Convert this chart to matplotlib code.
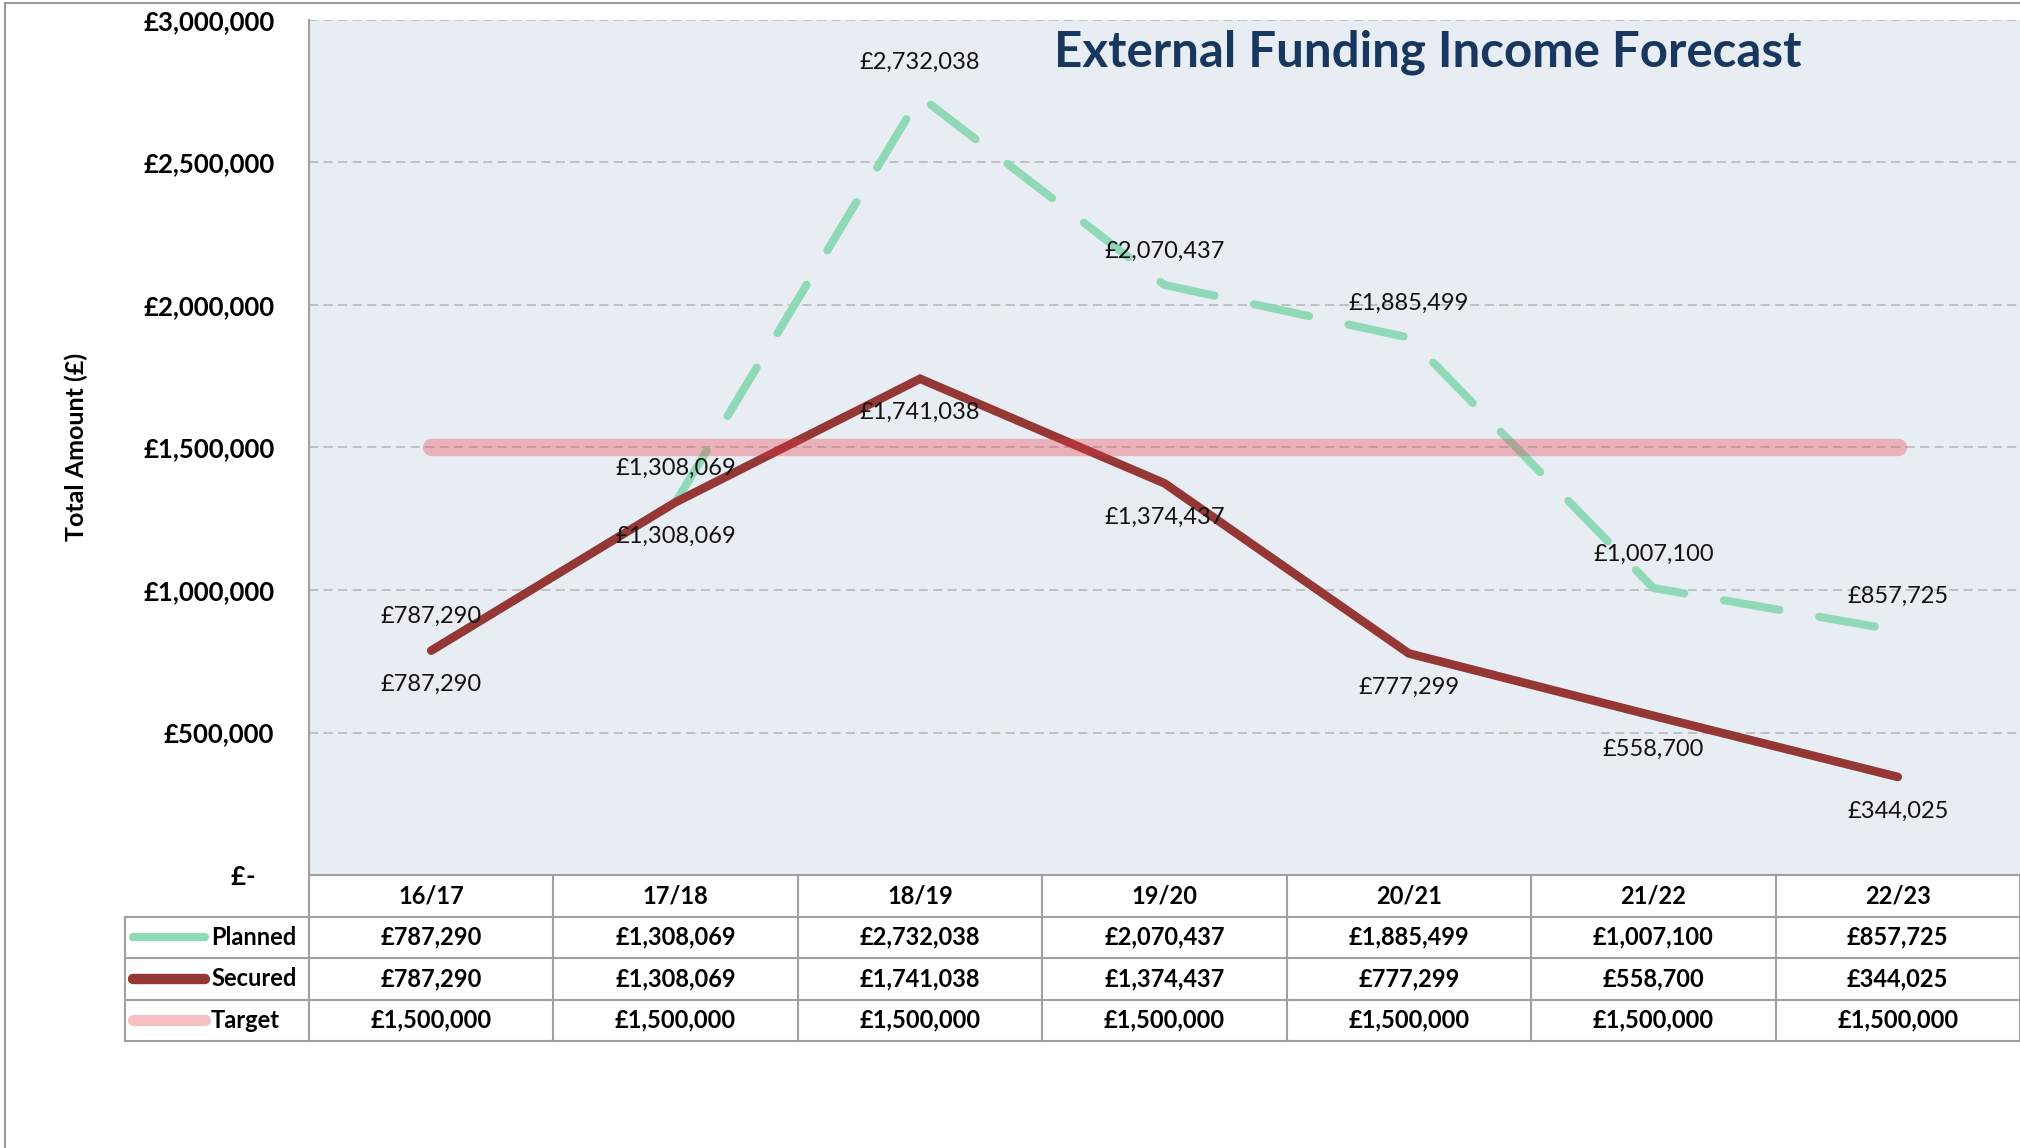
import matplotlib.pyplot as plt
import matplotlib.ticker as mticker
from matplotlib.lines import Line2D

plt.rcParams["font.family"] = ["Lato", "DejaVu Sans"]

# ── data ─────────────────────────────────────────────────────────────────────
YEARS = ["16/17", "17/18", "18/19", "19/20", "20/21", "21/22", "22/23"]
PLANNED = [787290, 1308069, 2732038, 2070437, 1885499, 1007100, 857725]
SECURED = [787290, 1308069, 1741038, 1374437, 777299, 558700, 344025]
TARGET = [1500000, 1500000, 1500000, 1500000, 1500000, 1500000, 1500000]
SERIES_NAMES = ["Planned", "Secured", "Target"]
Y_TICKS = [0, 500000, 1000000, 1500000, 2000000, 2500000, 3000000]

TITLE = "External Funding Income Forecast"
Y_LABEL = "Total Amount (£)"

# ── colours ──────────────────────────────────────────────────────────────────
C_PLANNED = "#8FD9B6"
C_SECURED = "#953735"
C_TARGET = "#EC3844"
BG = "#E8ECF3"
GRID = "#B5B5B5"
BORDER = "#A0A0A0"
TITLE_C = "#17375E"

W, H = 2020, 1148


def fx(px):
    return px / W


def fy(py):
    return 1 - py / H


def money(v):
    return f"£{v:,.0f}"


fig = plt.figure(figsize=(W / 100, H / 100), dpi=100)

# outer frame (only left and top edges show)
fig.add_artist(Line2D([fx(5), fx(5)], [0, fy(3)], color="#999999", lw=1.5))
fig.add_artist(Line2D([fx(5), 1], [fy(3), fy(3)], color="#999999", lw=1.5))

# ── main plot ────────────────────────────────────────────────────────────────
ax = fig.add_axes([fx(309), fy(875), 1 - fx(309), (875 - 20) / H])
ax.set_facecolor(BG)
x = list(range(len(YEARS)))

ax.plot(x, PLANNED, color=C_PLANNED, lw=5.8, dashes=(7, 5),
        dash_capstyle="round", zorder=3)
ax.plot(x, SECURED, color=C_SECURED, lw=6.2, solid_joinstyle="miter",
        solid_capstyle="round", zorder=4)
ax.plot(x, TARGET, color=C_TARGET, alpha=0.32, lw=12.5,
        solid_capstyle="round", zorder=5)

for i, v in enumerate(PLANNED):
    ax.annotate(money(v), (i, v), xytext=(0, 24.5), textcoords="offset points",
                ha="center", va="center", fontsize=17, color="#111111", zorder=6)
for i, v in enumerate(SECURED):
    ax.annotate(money(v), (i, v), xytext=(0, -24.5), textcoords="offset points",
                ha="center", va="center", fontsize=17, color="#111111", zorder=6)

ax.set_xlim(-0.5, len(YEARS) - 0.5)
ax.set_ylim(Y_TICKS[0], Y_TICKS[-1])
ax.set_xticks([])
ax.set_yticks(Y_TICKS)
ax.yaxis.set_major_formatter(mticker.FuncFormatter(
    lambda v, p: "£-   " if v == 0 else money(v)))
ax.tick_params(axis="y", length=0, pad=25, labelsize=18.5)
plt.setp(ax.get_yticklabels(), fontweight="bold")
ax.yaxis.grid(True, ls=(0, (6, 3.5)), color=GRID, lw=1.1)
ax.set_axisbelow(True)
for s in ["top", "right", "bottom"]:
    ax.spines[s].set_visible(False)
ax.spines["left"].set_color(BORDER)
ax.spines["left"].set_linewidth(1.5)

fig.text(fx(1054), fy(52), TITLE, ha="left", va="center", fontsize=35.5,
         fontweight="bold", color=TITLE_C)
fig.text(fx(76), fy(447), Y_LABEL, rotation=90, ha="center", va="center",
         fontsize=18, fontweight="bold")

# ── data table under the plot ────────────────────────────────────────────────
col_w = (W - 309) / len(YEARS)
label_w = (309 - 125) / col_w
left = -0.5 - label_w
tax = fig.add_axes([fx(125), fy(1041), 1 - fx(125), (1041 - 875) / H])
tax.set_xlim(left, len(YEARS) - 0.5)
tax.set_ylim(4, 0)
tax.axis("off")

bkw = dict(color=BORDER, lw=1.5, clip_on=False, solid_capstyle="projecting")
for k in range(len(YEARS) + 1):
    tax.plot([k - 0.5, k - 0.5], [0, 4], **bkw)
tax.plot([left, left], [1, 4], **bkw)
tax.plot([-0.5, len(YEARS) - 0.5], [0, 0], **bkw)
for r in range(1, 5):
    tax.plot([left, len(YEARS) - 0.5], [r, r], **bkw)

for i, yr in enumerate(YEARS):
    tax.text(i, 0.5, yr, ha="center", va="center", fontsize=17, fontweight="bold")

rows = [PLANNED, SECURED, TARGET]
sample = [(C_PLANNED, 1.0, 6), (C_SECURED, 1.0, 7.5), (C_TARGET, 0.32, 8)]
for r, (name, vals, (c, a, lw)) in enumerate(zip(SERIES_NAMES, rows, sample), start=1):
    for i, v in enumerate(vals):
        tax.text(i, r + 0.5, money(v), ha="center", va="center",
                 fontsize=17, fontweight="bold")
    tax.text(left + (211 - 125) / col_w, r + 0.5, name, ha="left", va="center",
             fontsize=17, fontweight="bold")
    tax.plot([left + (133 - 125) / col_w, left + (205 - 125) / col_w],
             [r + 0.5, r + 0.5], color=c, alpha=a, lw=lw,
             solid_capstyle="round", clip_on=False)

fig.savefig("out.png", dpi=100)
